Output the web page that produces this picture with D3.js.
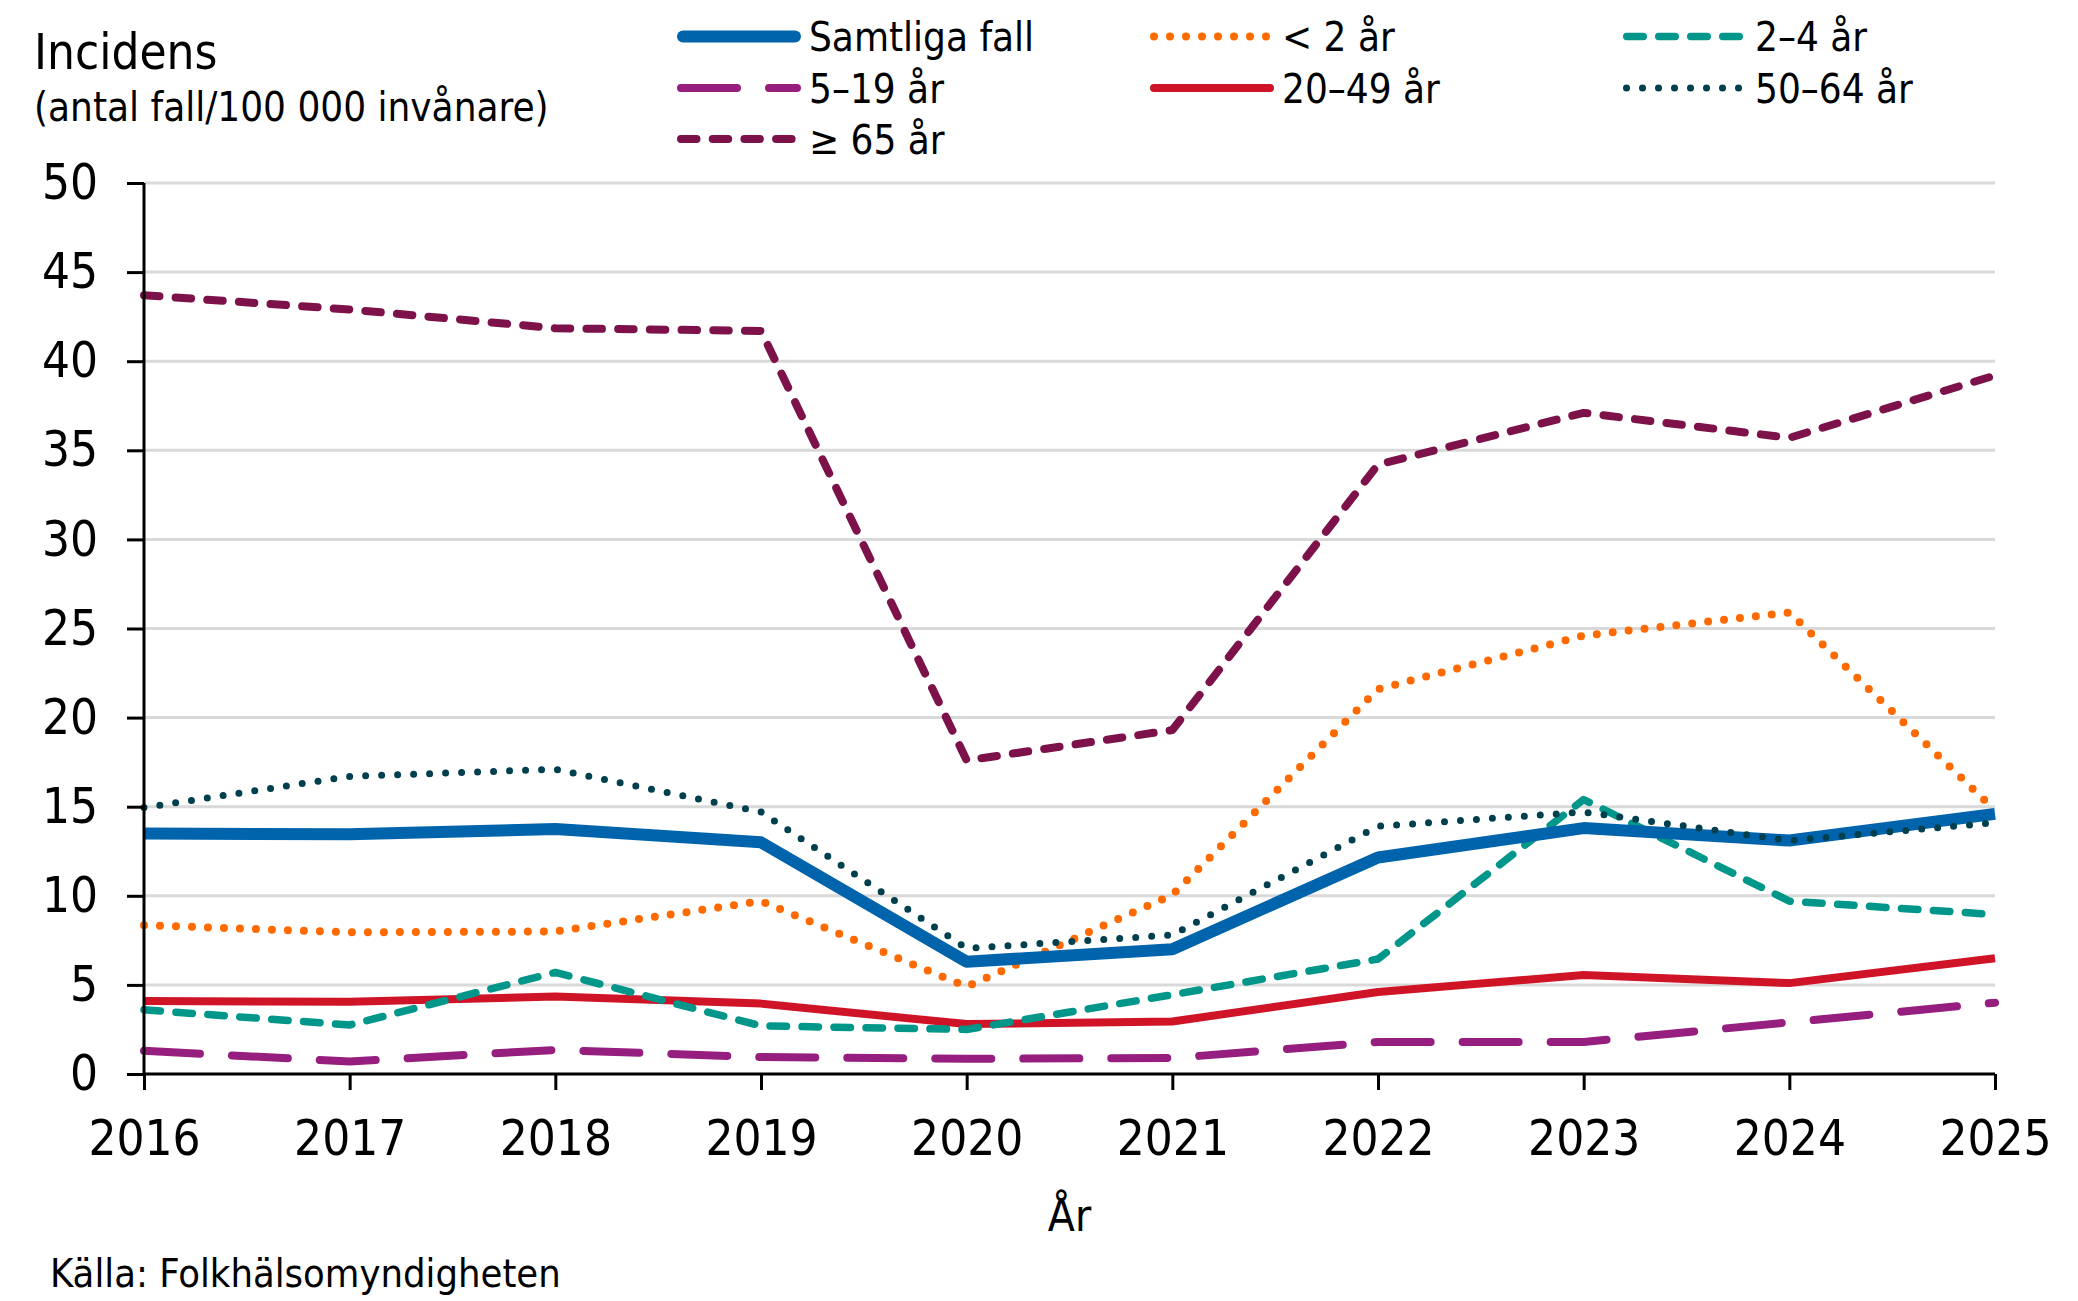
<!DOCTYPE html>
<html>
<head>
<meta charset="utf-8">
<script src="https://cdn.jsdelivr.net/npm/d3@7"></script>
<style>
  body { margin: 0; background: #fff; }
  svg text { font-family: "DejaVu Sans Condensed", "DejaVu Sans", sans-serif; fill: #000; }
</style>
</head>
<body>
<svg id="chart" width="2078" height="1301"></svg>
<script>
// data
var years = [2016, 2017, 2018, 2019, 2020, 2021, 2022, 2023, 2024, 2025];
var seriesNames = ["Samtliga fall", "< 2 år", "2–4 år", "5–19 år", "20–49 år", "50–64 år", "≥ 65 år"];
var samtliga = [13.5, 13.45, 13.75, 13.0, 6.3, 7.0, 12.15, 13.8, 13.1, 14.6];
var under2   = [8.35, 7.95, 8.0, 9.7, 4.9, 10.05, 21.6, 24.6, 25.9, 14.8];
var age2_4   = [3.6, 2.75, 5.7, 2.7, 2.5, 4.45, 6.45, 15.4, 9.7, 8.95];
var age5_19  = [1.3, 0.7, 1.35, 0.95, 0.85, 0.9, 1.8, 1.8, 2.9, 4.0];
var age20_49 = [4.1, 4.05, 4.35, 3.95, 2.8, 2.95, 4.6, 5.55, 5.1, 6.5];
var age50_64 = [14.95, 16.7, 17.1, 14.7, 7.05, 7.8, 13.9, 14.7, 13.1, 14.1];
var age65    = [43.7, 42.9, 41.85, 41.7, 17.6, 19.3, 34.2, 37.1, 35.7, 39.2];
var yTicks = [0, 5, 10, 15, 20, 25, 30, 35, 40, 45, 50];

(function () {
var seriesValues = [samtliga, under2, age2_4, age5_19, age20_49, age50_64, age65];
var styles = [
  { color: "#0064ad", width: 12,  dash: null },
  { color: "#ff6a00", width: 8,   dash: "0 16" },
  { color: "#00968a", width: 7.5, dash: "16.5 15.5" },
  { color: "#961e7e", width: 8,   dash: "56 32" },
  { color: "#d01428", width: 8,   dash: null },
  { color: "#003f4e", width: 7,   dash: "0 16" },
  { color: "#7d1149", width: 8,   dash: "15.5 16.2" }
];
// draw order, 50-64 dots end up over the blue line like in the original
var drawOrder = [6, 3, 4, 2, 1, 0, 5];

var svg = d3.select("#chart");
var plotLeft = 144, plotRight = 1995, plotTop = 183, plotBottom = 1074;

var x = d3.scaleLinear().domain([2016, 2025]).range([plotLeft, plotRight]);
var y = d3.scaleLinear().domain([0, 50]).range([plotBottom, plotTop]);

// gridlines
svg.append("g").selectAll("line")
  .data(yTicks.filter(function (d) { return d > 0; }))
  .enter().append("line")
  .attr("x1", plotLeft).attr("x2", plotRight)
  .attr("y1", function (d) { return y(d); })
  .attr("y2", function (d) { return y(d); })
  .attr("stroke", "#d9d9d9").attr("stroke-width", 3);

// lines
var line = d3.line()
  .x(function (d, i) { return x(years[i]); })
  .y(function (d) { return y(d); });

drawOrder.forEach(function (k) {
  var st = styles[k];
  svg.append("path")
    .datum(seriesValues[k])
    .attr("d", line)
    .attr("fill", "none")
    .attr("stroke", st.color)
    .attr("stroke-width", st.width)
    .attr("stroke-linejoin", "round")
    .attr("stroke-linecap", st.dash ? "round" : "butt")
    .attr("stroke-dasharray", st.dash);
});

// axes
var yAxis = d3.axisLeft(y).tickValues(yTicks).tickSize(17).tickPadding(29);
var gy = svg.append("g").attr("transform", "translate(" + plotLeft + ",0)").call(yAxis);
var xAxis = d3.axisBottom(x).tickValues(years).tickFormat(d3.format("d")).tickSize(16).tickPadding(30);
var gx = svg.append("g").attr("transform", "translate(0," + plotBottom + ")").call(xAxis);

[gy, gx].forEach(function (g) {
  g.select(".domain").attr("stroke", "#000").attr("stroke-width", 3);
  g.selectAll(".tick line").attr("stroke", "#000").attr("stroke-width", 3);
  g.selectAll(".tick text")
    .style("font-family", '"DejaVu Sans Condensed", "DejaVu Sans", sans-serif')
    .attr("font-size", 49).attr("fill", "#000");
});
gy.select(".domain").attr("d", "M0," + plotTop + "V" + plotBottom);
gx.select(".domain").attr("d", "M" + plotLeft + ",0H" + plotRight);

// titles
svg.append("text").attr("x", 34).attr("y", 69).attr("font-size", 49).text("Incidens");
svg.append("text").attr("x", 34).attr("y", 121).attr("font-size", 40).text("(antal fall/100 000 invånare)");
svg.append("text").attr("x", (plotLeft + plotRight) / 2).attr("y", 1231).attr("font-size", 44)
  .attr("text-anchor", "middle").text("År");
svg.append("text").attr("x", 50).attr("y", 1287).attr("font-size", 39.5).text("Källa: Folkhälsomyndigheten");

// legend
var legCols = [677, 1150, 1623];
var legRows = [36.5, 88, 139];
var legend = svg.append("g");
seriesNames.forEach(function (name, k) {
  var cx = legCols[k % 3], cy = legRows[Math.floor(k / 3)];
  var st = styles[k];
  legend.append("line")
    .attr("x1", cx + st.width / 2).attr("x2", cx + 124 - st.width / 2)
    .attr("y1", cy).attr("y2", cy)
    .attr("stroke", st.color)
    .attr("stroke-width", st.width)
    .attr("stroke-linecap", "round")
    .attr("stroke-dasharray", st.dash);
  legend.append("text")
    .attr("x", cx + 132).attr("y", cy + 14.5)
    .attr("font-size", 40)
    .text(name);
});
})();
</script>
</body>
</html>
